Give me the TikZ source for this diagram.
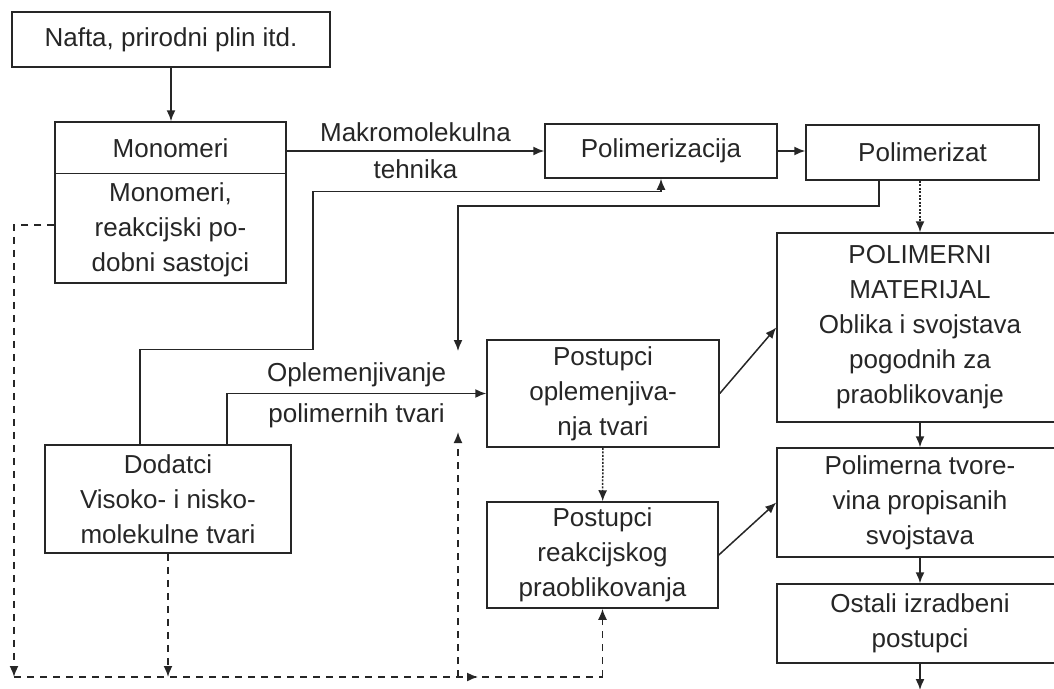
\documentclass[tikz,border=0pt]{standalone}
\usepackage{fontspec}
\setmainfont{Liberation Sans}
\usetikzlibrary{arrows.meta}

\begin{document}
\begin{tikzpicture}[x=1pt,y=-1pt,line width=1.5pt,color=black!85,
    kutija/.style={draw,rectangle,inner sep=0pt,align=center,font=\fontsize{26}{35}\selectfont},
    tekst/.style={inner sep=0pt,align=center,font=\fontsize{26}{35}\selectfont},
    pil/.style={-{Latex[length=11pt,width=9pt]}},
    crtkano/.style={line width=1.7pt,dash pattern=on 7pt off 6pt}]
        \useasboundingbox (0,0) rectangle (1054,688);
        \clip (0,0) rectangle (1054,688); % right column runs off the page

        % boxes
        \node[kutija,minimum width=318pt,minimum height=55pt] (nafta) at (171,39.5) {Nafta, prirodni plin itd.};
        \node[kutija,minimum width=231pt,minimum height=161pt] (monomeri) at (170.5,202.5) {};
        \node[tekst] (monomeriA) at (170.5,148) {Monomeri};
        \node[tekst] (monomeriB) at (170.5,230) {Monomeri,\\reakcijski po-\\dobni sastojci};
        \draw ([yshift=-52pt]monomeri.north west) -- ([yshift=-52pt]monomeri.north east);
        \node[kutija,minimum width=232pt,minimum height=54pt] (polimerizacija) at (661,151) {Polimerizacija};
        \node[kutija,minimum width=233pt,minimum height=55pt] (polimerizat) at (922.5,152.5) {Polimerizat};
        \node[kutija,minimum width=286pt,minimum height=189pt] (materijal) at (920,327.5)
        {POLIMERNI\\MATERIJAL\\Oblika i svojstava\\pogodnih za\\praoblikovanje};
        \node[kutija,minimum width=232pt,minimum height=107pt] (oplemenjivanje) at (603,393.5)
        {Postupci\\oplemenjiva-\\nja tvari};
        \node[kutija,minimum width=231pt,minimum height=106pt] (reakcijsko) at (602.5,555)
        {Postupci\\reakcijskog\\praoblikovanja};
        \node[kutija,minimum width=246pt,minimum height=108pt] (dodatci) at (168,499)
        {Dodatci\\Visoko- i nisko-\\molekulne tvari};
        \node[kutija,minimum width=286pt,minimum height=109pt] (tvorevina) at (920,502.5)
        {Polimerna tvore-\\vina propisanih\\svojstava};
        \node[kutija,minimum width=286pt,minimum height=79pt] (ostali) at (920,623.5)
        {Ostali izradbeni\\postupci};

        % free ends of the dashed loop
        \coordinate (kutL) at (14,677);
        \coordinate (spoj) at (458,677);
        \coordinate (vrh) at (458,432);
        \coordinate (strelica) at (478,677);
        \coordinate (kraj) at (458,351);
        \coordinate (izlaz) at (920,690);

        % main flow
        \draw[pil] (nafta.south) -- (nafta.south |- monomeri.north);
        \draw[pil] (monomeri.east |- polimerizacija.west) -- (polimerizacija.west)
        node[midway,above=8pt,tekst] (makro) {Makromolekulna}
        node[midway,below=8pt,tekst] (tehnika) {tehnika};
        \draw[pil] (polimerizacija.east) -- (polimerizat.west |- polimerizacija.east);
        \draw[pil,dash pattern=on 2pt off 1.5pt] (materijal.north |- polimerizat.south) -- (materijal.north);
        \draw[pil] ([xshift=-43.5pt]polimerizat.south) -- ++(0,25) -| (kraj);
        \draw[pil] ([xshift=-28pt]dodatci.north) -- ++(0,-95) -- ++(173,0) -- ++(0,-158) -| (polimerizacija.south);
        \draw[pil] ([xshift=59pt]dodatci.north) |- (oplemenjivanje.west)
        node[pos=0.75,above=6pt,tekst] (oplA) {Oplemenjivanje}
        node[pos=0.75,below=9pt,tekst] (oplB) {polimernih tvari};
        \draw[pil,dash pattern=on 2pt off 1.5pt] (oplemenjivanje) -- (reakcijsko);
        \draw[pil] (oplemenjivanje.east) -- (materijal.west);
        \draw[pil] (reakcijsko.east) -- (tvorevina.west);
        \draw[pil] (materijal) -- (tvorevina);
        \draw[pil] (tvorevina) -- (ostali);
        \draw[pil] (ostali) -- (izlaz);

        % dashed loop at the bottom
        \draw[crtkano,pil] ([yshift=-22.5pt]monomeri.west) -| (kutL);
        \draw[crtkano,pil] (dodatci.south) -- (dodatci.south |- kutL);
        \draw[crtkano] (kutL) -- (reakcijsko.south |- kutL);
        \draw[pil] ([xshift=-10pt]strelica) -- (strelica);
        \draw[crtkano,pil] (spoj) -- (vrh);
        \draw[crtkano,pil] (reakcijsko.south |- kutL) -- (reakcijsko.south);
    \end{tikzpicture}
\end{document}
